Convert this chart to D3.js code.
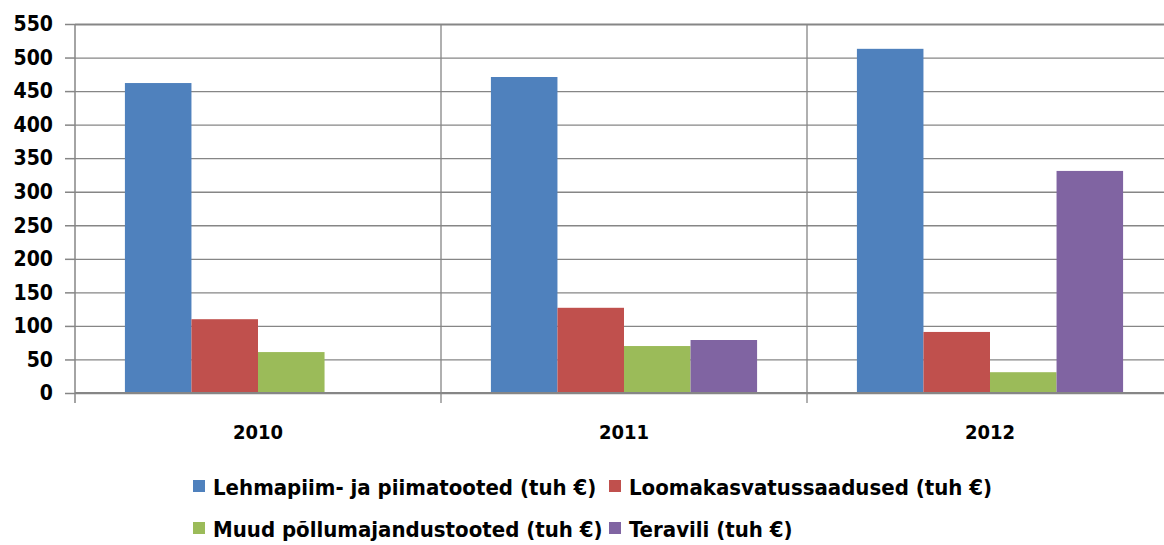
<!DOCTYPE html>
<html><head><meta charset="utf-8">
<script src="https://cdn.jsdelivr.net/npm/d3@7"></script>
<style>
html,body{margin:0;padding:0;background:#fff;overflow:hidden}
text{font-family:"Liberation Sans Narrow","DejaVu Sans Condensed","Liberation Sans",sans-serif;font-weight:bold;fill:#000}
</style></head>
<body><svg id="c" width="1164" height="545"></svg>
<script>
const categories = ["2010","2011","2012"];
const seriesNames = ["Lehmapiim- ja piimatooted (tuh €)","Loomakasvatussaadused (tuh €)","Muud põllumajandustooted (tuh €)","Teravili (tuh €)"];
const lehmapiim = [462, 471, 513];
const loomakasvatus = [110, 127, 91];
const muud = [61, 70, 31];
const teravili = [0, 79, 331];
const yTicks = [0,50,100,150,200,250,300,350,400,450,500,550];
const colors = ["#4F81BD","#C0504D","#9BBB59","#8064A2"];

const series = [lehmapiim, loomakasvatus, muud, teravili];
const svg = d3.select("#c");
const L = 75, R = 1173, T = 24, B = 393;
const x = d3.scaleBand().domain(categories).range([L, R]).padding(0);
const xs = d3.scaleBand().domain(d3.range(4)).range([0, x.bandwidth()]).paddingInner(0).paddingOuter(0.75);
const y = d3.scaleLinear().domain([0, 550]).range([B, T]);
const grey = "#868686";

// horizontal gridlines
const grid = svg.append("g").attr("transform", `translate(${L},0)`)
  .call(d3.axisLeft(y).tickValues(yTicks).tickSize(-(R-L)).tickFormat(""));
grid.select(".domain").remove();
grid.selectAll("line").attr("stroke", grey).attr("stroke-width", d => d===550 ? 2 : 1.3);

// vertical category separators
svg.append("g").selectAll("line").data(categories.slice(1)).join("line")
  .attr("x1", d => x(d)).attr("x2", d => x(d)).attr("y1", T).attr("y2", B + 10)
  .attr("stroke", grey).attr("stroke-width", 1.3);

// bars
const data = [];
categories.forEach((c, i) => series.forEach((s, j) => data.push({c, j, v: s[i]})));
svg.append("g").selectAll("rect").data(data.filter(d => d.v > 0)).join("rect")
  .attr("x", d => x(d.c) + xs(d.j)).attr("width", xs.bandwidth())
  .attr("y", d => y(d.v)).attr("height", d => y(0) - y(d.v))
  .attr("fill", d => colors[d.j]);

// y axis
const ya = svg.append("g").attr("transform", `translate(${L},0)`)
  .call(d3.axisLeft(y).tickValues(yTicks).tickSize(10).tickPadding(12));
ya.select(".domain").attr("stroke", grey).attr("stroke-width", 1.5).attr("d", `M0,${T}V${B+10}`);
ya.selectAll(".tick line").attr("stroke", grey).attr("stroke-width", 1.5);
ya.selectAll(".tick text").style("font-size", "21px").attr("fill", "#000");

// x axis line
svg.append("line").attr("x1", L).attr("x2", R).attr("y1", B).attr("y2", B)
  .attr("stroke", grey).attr("stroke-width", 2);

// category labels
svg.append("g").selectAll("text").data(categories).join("text")
  .attr("x", d => x(d) + x.bandwidth()/2).attr("y", 439)
  .attr("text-anchor", "middle").style("font-size", "20px").text(d => d);

// legend
const legPos = [[193, 487], [609, 487], [193, 529], [609, 529]];
const leg = svg.append("g").selectAll("g").data(seriesNames).join("g")
  .attr("transform", (d, i) => `translate(${legPos[i][0]},${legPos[i][1]})`);
leg.append("rect").attr("x", 0).attr("y", -7).attr("width", 12).attr("height", 12)
  .attr("fill", (d, i) => colors[i]);
leg.append("text").attr("x", 20).attr("y", 8).style("font-size", "22px").text(d => d);
</script></body></html>
